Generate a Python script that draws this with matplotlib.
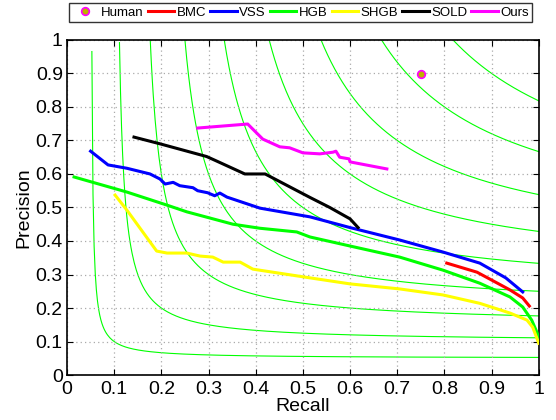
import numpy as np
import matplotlib
matplotlib.use('Agg')
import matplotlib.pyplot as plt

plt.rcParams['font.family'] = ['Liberation Sans', 'DejaVu Sans']

# iso-F levels
niveis_f = [0.1, 0.2, 0.3, 0.4, 0.5, 0.6, 0.7, 0.8, 0.9]

# humano
human_r = [0.75]
human_p = [0.897]

bmc_r = [0.805, 0.869, 0.939, 0.966, 0.98]
bmc_p = [0.334, 0.307, 0.254, 0.23, 0.206]

vss_r = [0.05, 0.087, 0.127, 0.176, 0.197, 0.208, 0.225, 0.239, 0.267, 0.277, 0.298,
         0.313, 0.324, 0.339, 0.409, 0.515, 0.6, 0.705, 0.797, 0.875, 0.93, 0.966]
vss_p = [0.668, 0.627, 0.617, 0.60, 0.585, 0.57, 0.575, 0.565, 0.559, 0.55, 0.544,
         0.535, 0.543, 0.531, 0.498, 0.472, 0.44, 0.403, 0.367, 0.334, 0.29, 0.248]

hgb_r = [0.015, 0.127, 0.212, 0.254, 0.352, 0.409, 0.487, 0.515, 0.6, 0.705, 0.797,
         0.875, 0.939, 0.966, 0.985, 0.996, 1.0]
hgb_p = [0.591, 0.546, 0.507, 0.487, 0.45, 0.438, 0.427, 0.412, 0.385, 0.352, 0.313,
         0.274, 0.233, 0.203, 0.164, 0.128, 0.11]

shgb_r = [0.102, 0.127, 0.19, 0.212, 0.254, 0.282, 0.309, 0.331, 0.367, 0.394, 0.515,
          0.6, 0.705, 0.797, 0.875, 0.939, 0.975, 0.987, 0.996, 1.0]
shgb_p = [0.537, 0.492, 0.37, 0.364, 0.364, 0.355, 0.352, 0.337, 0.337, 0.316, 0.29,
          0.272, 0.257, 0.239, 0.214, 0.185, 0.164, 0.143, 0.11, 0.095]

sold_r = [0.142, 0.197, 0.296, 0.318, 0.377, 0.42, 0.515, 0.557, 0.60, 0.617]
sold_p = [0.71, 0.69, 0.652, 0.638, 0.60, 0.60, 0.53, 0.50, 0.466, 0.44]

ours_r = [0.277, 0.383, 0.415, 0.451, 0.472, 0.50, 0.536, 0.564, 0.57, 0.578, 0.598,
          0.60, 0.678]
ours_p = [0.737, 0.749, 0.704, 0.681, 0.678, 0.663, 0.66, 0.665, 0.668, 0.65, 0.645,
          0.636, 0.615]

fig, ax = plt.subplots(figsize=(5.56, 4.2), dpi=100)
fig.subplots_adjust(left=0.1205, right=0.969, bottom=0.107, top=0.905)

# curvas iso-F
for f in niveis_f:
    r = np.linspace(f / (2 - f) + 1e-4, 1, 400)
    p = f * r / (2 * r - f)
    ax.plot(r, p, color='#00FF00', linewidth=0.8, zorder=1)

ax.plot(human_r, human_p, 'o', markersize=5.5, markerfacecolor='#BFB000',
        markeredgecolor='#FF00FF', markeredgewidth=1.2, label='Human', zorder=5)
ax.plot(bmc_r, bmc_p, color='#FF0000', linewidth=2.2, label='BMC', zorder=3)
ax.plot(vss_r, vss_p, color='#0000FF', linewidth=2.2, label='VSS', zorder=3)
ax.plot(hgb_r, hgb_p, color='#00FF00', linewidth=2.2, label='HGB', zorder=3)
ax.plot(shgb_r, shgb_p, color='#FFFF00', linewidth=2.2, label='SHGB', zorder=3)
ax.plot(sold_r, sold_p, color='#000000', linewidth=2.2, label='SOLD', zorder=3)
ax.plot(ours_r, ours_p, color='#FF00FF', linewidth=2.2, label='Ours', zorder=3)

ax.set_xlim(0, 1)
ax.set_ylim(0, 1)
ticks = np.arange(0, 1.01, 0.1)
ax.set_xticks(ticks)
ax.set_yticks(ticks)
rotulos = ['0'] + ['%.1f' % t for t in ticks[1:-1]] + ['1']
ax.set_xticklabels(rotulos)
ax.set_yticklabels(rotulos)
ax.tick_params(direction='in', labelsize=14, top=True, right=True, length=4)
ax.tick_params(axis='x', pad=4)
ax.tick_params(axis='y', pad=3)
ax.grid(True, linestyle=(0, (1, 2.5)), color='#AAAAAA', linewidth=0.9)
for s in ax.spines.values():
    s.set_linewidth(1.2)

ax.set_xlabel('Recall', fontsize=14, labelpad=0)
ax.set_ylabel('Precision', fontsize=14, labelpad=2)

# legenda acima do eixo, presa ao topo da figura
leg = fig.legend(*ax.get_legend_handles_labels(), loc='upper center',
                 bbox_to_anchor=(0.5405, 1 - 3 / 420), ncol=7, fontsize=9.5,
                 frameon=True, fancybox=False, edgecolor='black', handlelength=2.0,
                 handletextpad=0.2, columnspacing=0.3, borderpad=0.25, borderaxespad=0)
leg.get_frame().set_linewidth(1.0)

plt.savefig('out.png', dpi=100)
